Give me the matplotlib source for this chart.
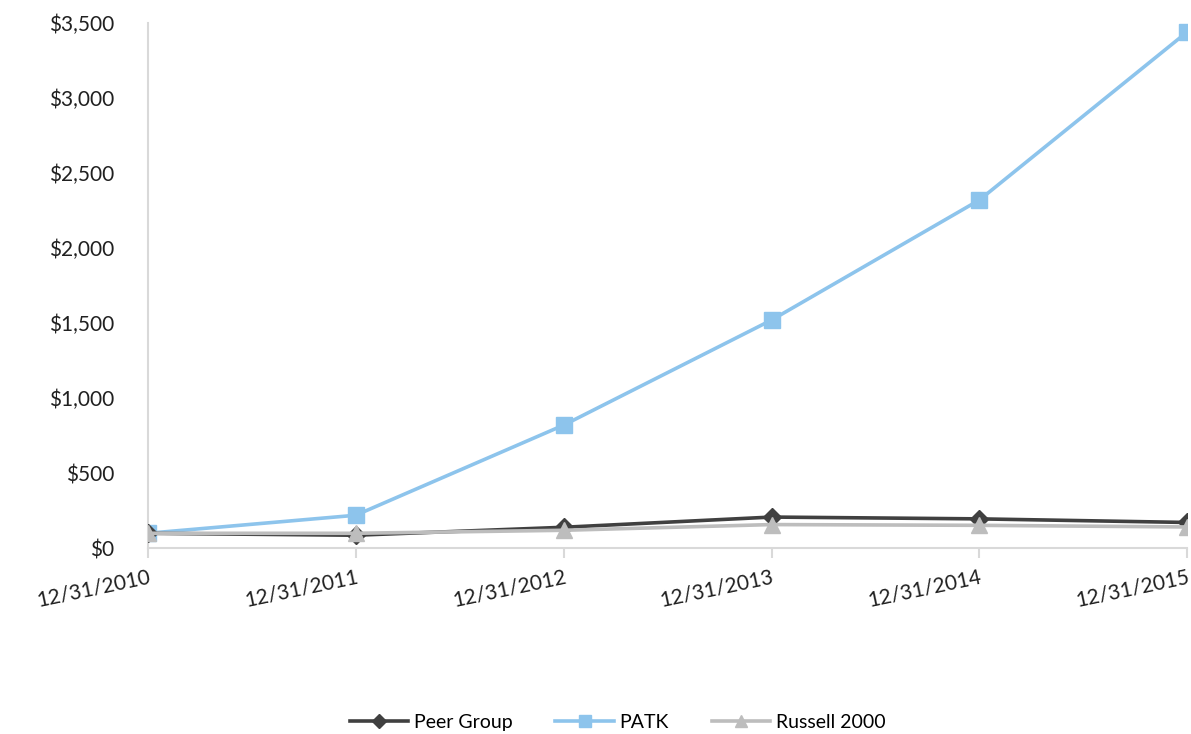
import matplotlib.pyplot as plt
from matplotlib.ticker import FuncFormatter

dates = ["12/31/2010", "12/31/2011", "12/31/2012", "12/31/2013", "12/31/2014", "12/31/2015"]
peer_group = [100, 87, 140, 208, 196, 172]
patk = [100, 220, 820, 1520, 2320, 3440]
russell_2000 = [100, 100, 120, 158, 153, 142]

plt.rcParams['font.family'] = ['Lato', 'DejaVu Sans']

fig = plt.figure(figsize=(11.91, 7.34), dpi=100)
ax = fig.add_axes([0.124, 0.253, 0.873, 0.716])

x = list(range(len(dates)))
ax.plot(x, peer_group, color='#404040', lw=2.6, marker='D', ms=9, label='Peer Group', zorder=3)
ax.plot(x, patk, color='#8DC4EC', lw=2.6, marker='s', ms=11, label='PATK', zorder=2)
ax.plot(x, russell_2000, color='#BDBDBD', lw=2.6, marker='^', ms=11, label='Russell 2000', zorder=4)

ax.set_xlim(0, len(dates) - 1)
ax.set_ylim(0, 3500)
ax.set_yticks(range(0, 3501, 500))
ax.yaxis.set_major_formatter(FuncFormatter(lambda v, p: '${:,.0f}'.format(v)))
ax.set_xticks(x)
ax.set_xticklabels(dates, rotation=12, ha='right', rotation_mode='anchor', fontsize=15)

for s in ['top', 'right']:
    ax.spines[s].set_visible(False)
ax.spines['left'].set_color('#D9D9D9')
ax.spines['bottom'].set_color('#D9D9D9')
ax.spines['left'].set_linewidth(1.5)
ax.spines['bottom'].set_linewidth(1.5)
ax.tick_params(axis='y', length=0, labelsize=15, pad=24, labelcolor='#202020')
ax.tick_params(axis='x', length=7, width=1.5, color='#D9D9D9', labelcolor='#202020', pad=6)

ax.legend(loc='lower center', bbox_to_anchor=(0.5 - 0.124 / 2 + 0.014, -0.38), ncol=3, frameon=False,
          fontsize=14, handlelength=3, columnspacing=2.2, handletextpad=0.3, markerscale=0.75)

fig.savefig('out.png')
